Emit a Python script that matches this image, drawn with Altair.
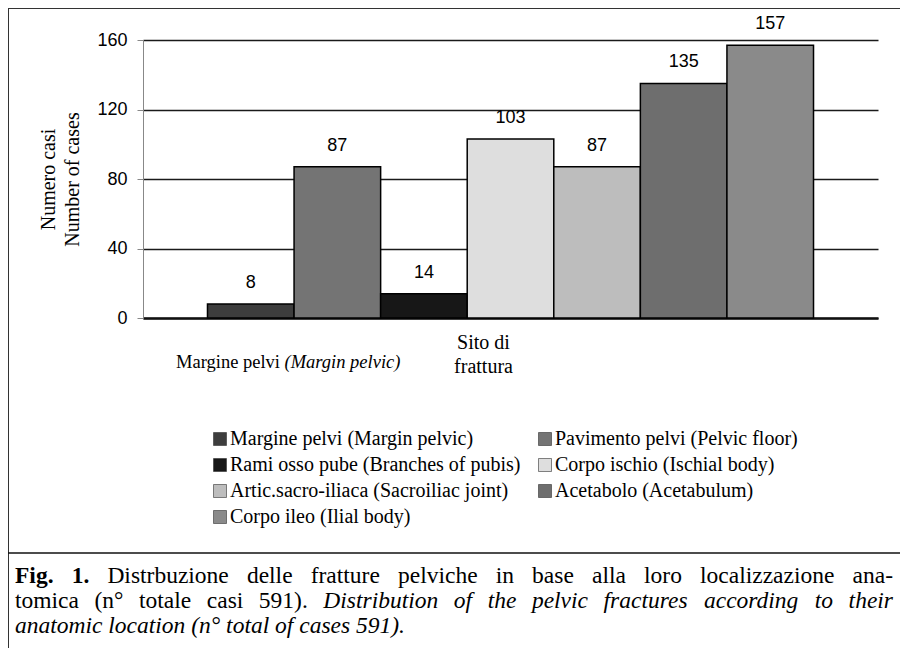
import altair as alt
import pandas as pd

# ---------------- data ----------------
categories = [
    "Margine pelvi (Margin pelvic)",
    "Pavimento pelvi (Pelvic floor)",
    "Rami osso pube (Branches of pubis)",
    "Corpo ischio (Ischial body)",
    "Artic.sacro-iliaca (Sacroiliac joint)",
    "Acetabolo (Acetabulum)",
    "Corpo ileo (Ilial body)",
]
cases = [8, 87, 14, 103, 87, 135, 157]
fills = ["#3d3d3d", "#747474", "#171717", "#dedede", "#bdbdbd", "#6e6e6e", "#8a8a8a"]
group_label = "Sito di frattura"
y_ticks = [0, 40, 80, 120, 160]
y_title = ["Numero casi", "Number of cases"]
caption_lines = [
    [("Fig.", "bold"), ("1.", "bold"), ("Distrbuzione", "r"), ("delle", "r"), ("fratture", "r"),
     ("pelviche", "r"), ("in", "r"), ("base", "r"), ("alla", "r"), ("loro", "r"),
     ("localizzazione", "r"), ("ana-", "r")],
    [("tomica", "r"), ("(n°", "r"), ("totale", "r"), ("casi", "r"), ("591).", "r"),
     ("Distribution", "i"), ("of", "i"), ("the", "i"), ("pelvic", "i"), ("fractures", "i"),
     ("according", "i"), ("to", "i"), ("their", "i")],
    [("anatomic", "i"), ("location", "i"), ("(n°", "i"), ("total", "i"), ("of", "i"),
     ("cases", "i"), ("591).", "i")],
]

df = pd.DataFrame({"site": [group_label] * len(categories), "location": categories, "cases": cases})

# legend is read row by row in two columns -> column-major order for Vega's grid
legend_order = [categories[i] for i in (0, 2, 4, 6, 1, 3, 5)]
legend_fills = [fills[i] for i in (0, 2, 4, 6, 1, 3, 5)]

W, H = 735, 278

x_enc = alt.X(
    "site:N",
    scale=alt.Scale(paddingInner=0, paddingOuter=0.1064),
    axis=alt.Axis(
        title=None,
        labelExpr="['Sito di', 'frattura']",
        labelFont="Liberation Serif",
        labelFontSize=20,
        labelLineHeight=24,
        labelOffset=-27,
        labelPadding=14,
        labelColor="black",
        labelAngle=0,
        ticks=False,
        domainColor="#111",
        domainWidth=2.5,
    ),
)
xo_enc = alt.XOffset("location:N", sort=categories,
                     scale=alt.Scale(domain=categories, paddingInner=0, paddingOuter=0))
y_enc = alt.Y(
    "cases:Q",
    scale=alt.Scale(domain=[0, 160], nice=False),
    axis=alt.Axis(
        values=y_ticks,
        title=y_title,
        titleFont="Liberation Serif",
        titleFontSize=20,
        titleFontWeight="normal",
        titleLineHeight=24,
        titlePadding=14,
        titleColor="black",
        labelFont="Liberation Sans",
        labelFontSize=18,
        labelColor="black",
        labelPadding=10,
        tickSize=6,
        tickColor="#888",
        domainColor="#888",
        domainWidth=1,
        grid=True,
        gridColor="#1a1a1a",
        gridWidth=1.6,
    ),
)

bars = alt.Chart(df).mark_bar(stroke="black", strokeWidth=1.5).encode(
    x=x_enc,
    xOffset=xo_enc,
    y=y_enc,
    color=alt.Color(
        "location:N",
        scale=alt.Scale(domain=legend_order, range=legend_fills),
        legend=alt.Legend(
            title=None,
            orient="none",
            legendX=67,
            legendY=389,
            columns=2,
            symbolType="square",
            symbolSize=169,
            symbolStrokeColor="#333",
            symbolStrokeWidth=0.6,
            labelFont="Liberation Serif",
            labelFontSize=20,
            labelColor="black",
            labelOffset=0,
            labelLimit=400,
            columnPadding=14,
            rowPadding=6,
            padding=0,
        ),
    ),
)

labels = alt.Chart(df).mark_text(
    baseline="alphabetic", dy=-16, font="Liberation Sans", fontSize=18, color="black"
).encode(x="site:N", xOffset=alt.XOffset("location:N", sort=categories), y="cases:Q", text="cases:Q")

one = pd.DataFrame({"k": [0]})


def rule(x1, x2, y1, y2, color="#333", width=1.0):
    return alt.Chart(one).mark_rule(color=color, strokeWidth=width).encode(
        x=alt.value(x1), x2=alt.value(x2), y=alt.value(y1), y2=alt.value(y2)
    )


def note(txt, x, y, size=19, font="Liberation Serif", style="normal", weight="normal"):
    return alt.Chart(one).mark_text(
        text=txt, align="left", baseline="middle", font=font, fontSize=size,
        fontStyle=style, fontWeight=weight, color="black",
    ).encode(x=alt.value(x), y=alt.value(y))


# approximate Times advance widths (per 1000 em) to justify the caption
_reg = dict(zip("abcdefghijklmnopqrstuvwxyz",
                [444, 500, 444, 500, 444, 333, 500, 500, 278, 278, 500, 278, 778, 500, 500, 500, 500,
                 333, 389, 278, 500, 500, 722, 500, 500, 444]))
_ita = dict(zip("abcdefghijklmnopqrstuvwxyz",
                [500, 500, 444, 500, 444, 278, 500, 500, 278, 278, 444, 278, 722, 500, 500, 500, 500,
                 389, 389, 278, 500, 444, 667, 444, 444, 389]))
_common = {"D": 722, "F": 611, "(": 333, ")": 333, ".": 250, "-": 333, "°": 400, " ": 250}
for d in "0123456789":
    _common[d] = 500
_bold = {"F": 611, "i": 278, "g": 500, ".": 250, "1": 500}
metrics = {"r": {**_reg, **_common}, "i": {**_ita, **_common}, "bold": {**_reg, **_common, **_bold}}

CAP_SIZE = 23.5
CAP_X0, CAP_X1 = -128, 750        # page x 15 .. 893
CAP_Y = [536, 561, 586]
caption_layers = []
for li, words in enumerate(caption_lines):
    widths = [sum(metrics[s].get(c, 500) for c in t) / 1000 * CAP_SIZE for t, s in words]
    justify = li < len(caption_lines) - 1
    gap = (CAP_X1 - CAP_X0 - sum(widths)) / (len(words) - 1) if justify else 0.25 * CAP_SIZE
    xpos = CAP_X0
    for (t, s), w in zip(words, widths):
        caption_layers.append(
            note(t, xpos, CAP_Y[li], size=CAP_SIZE,
                 style="italic" if s == "i" else "normal",
                 weight="bold" if s == "bold" else "normal")
        )
        xpos += w + gap

decor = [
    rule(-135, 757, -31.5, -31.5),
    rule(-134.5, -134.5, -32, 608),
    rule(-135, 757, 513, 513, color="#111", width=1.5),
    note("Margine pelvi", 33, 322, size=18.5),
    note("(Margin pelvic)", 141.5, 322, size=18.5, style="italic"),
] + caption_layers

chart = alt.layer(bars, labels, *decor).properties(
    width=W,
    height=H,
    padding={"left": 135, "top": 32, "right": 22, "bottom": 330},
    autosize=alt.AutoSizeParams(type="none"),
    background="white",
).configure_view(stroke=None)

chart.save("out.html", embed_options={"renderer": "svg", "actions": False})
